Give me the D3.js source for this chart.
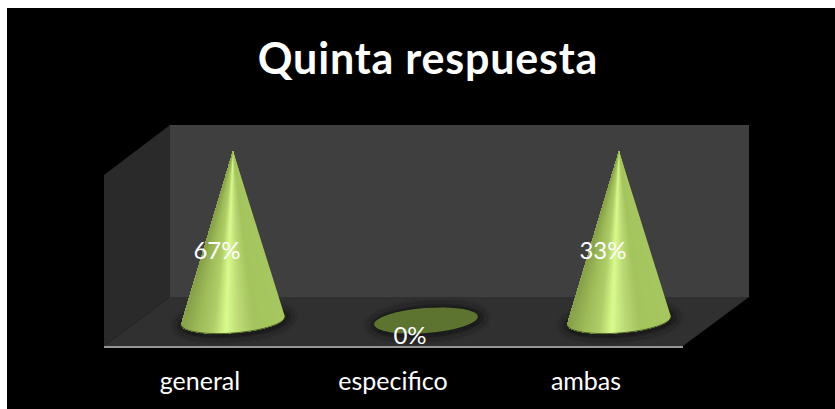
<!DOCTYPE html>
<html>
<head>
<meta charset="utf-8">
<script src="https://cdn.jsdelivr.net/npm/d3@7"></script>
<style>
    html, body { margin: 0; padding: 0; background: #fff; }
    svg { display: block; font-family: Lato, "Open Sans", sans-serif; }
</style>
</head>
<body>
<div id="graph"></div>
<script>
// datos
const chartTitle = "Quinta respuesta"
const categories = ["general", "especifico", "ambas"]
// altura dibujada de cada cono (los dos conos llegan al tope aunque las etiquetas digan otra cosa)
const coneValues = [1, 0, 1]
const valueLabels = ["67%", "0%", "33%"]

const width = 835
const height = 409

const svg = d3.select("#graph").append("svg")
    .attr("width", width)
    .attr("height", height)

svg.append("rect")
    .attr("x", 7)
    .attr("y", 8)
    .attr("width", width - 7)
    .attr("height", height - 8)
    .attr("fill", "#000")

svg.append("text")
    .attr("x", 428)
    .attr("y", 74)
    .attr("text-anchor", "middle")
    .attr("font-size", 43)
    .attr("font-weight", 700)
    .attr("letter-spacing", 0.8)
    .attr("fill", "#fff")
    .text(chartTitle)

// caja 3D
const frontLeft = 104, frontRight = 683, frontY = 346
const depthX = 66, depthY = 49
const backTop = 125

const x = d3.scaleBand().domain(categories).range([frontLeft, frontRight])
const y = d3.scaleLinear().domain([0, 1]).range([320.5, 151])

const walls = svg.append("g")
const poly = pts => "M" + pts.map(p => p.join(",")).join("L") + "Z"
walls.append("path") // fondo
    .attr("d", poly([[frontLeft + depthX, backTop], [frontRight + depthX, backTop],
        [frontRight + depthX, frontY - depthY], [frontLeft + depthX, frontY - depthY]]))
    .attr("fill", "#3f3f3f")
walls.append("path") // pared izquierda
    .attr("d", poly([[frontLeft, backTop + depthY + 1], [frontLeft + depthX, backTop],
        [frontLeft + depthX, frontY - depthY], [frontLeft, frontY]]))
    .attr("fill", "#2a2a2a")
walls.append("path") // piso
    .attr("d", poly([[frontLeft, frontY], [frontLeft + depthX, frontY - depthY],
        [frontRight + depthX, frontY - depthY], [frontRight, frontY]]))
    .attr("fill", "#303030")

// sombra de la base
const defs = svg.append("defs")
defs.append("filter")
    .attr("id", "soft")
    .attr("x", "-20%").attr("y", "-50%").attr("width", "140%").attr("height", "200%")
    .append("feGaussianBlur")
    .attr("stdDeviation", 3.5)

const rx = 52, ry = 12.5, tilt = -4.5
const coneX = d => x(d) + x.bandwidth() / 2 + depthX / 2 - 0.5
const rad = tilt * Math.PI / 180
const basePoint = (cx, th) => {
    const ex = rx * Math.cos(th), ey = ry * Math.sin(th)
    return [cx + ex * Math.cos(rad) - ey * Math.sin(rad), y(0) + ex * Math.sin(rad) + ey * Math.cos(rad)]
}

const shade = d3.scaleLinear()
    .domain([0, 0.3, 0.45, 0.58, 0.7, 0.85, 1])
    .range(["#a6c660", "#a4c45e", "#bcd976", "#d9fb8e", "#afce69", "#9dbb57", "#869f4a"])

const steps = d3.range(48)
const cones = svg.selectAll("g.cone")
    .data(categories)
    .enter().append("g")
    .attr("class", "cone")

cones.append("ellipse")
    .attr("cx", d => coneX(d) + 1)
    .attr("cy", y(0) + 1)
    .attr("rx", rx + 6)
    .attr("ry", ry + 4)
    .attr("transform", d => `rotate(${tilt} ${coneX(d)} ${y(0)})`)
    .attr("fill", "#141414")
    .attr("filter", "url(#soft)")

cones.append("ellipse")
    .attr("cx", d => coneX(d))
    .attr("cy", y(0))
    .attr("rx", rx)
    .attr("ry", ry)
    .attr("transform", d => `rotate(${tilt} ${coneX(d)} ${y(0)})`)
    .attr("fill", "#5c7430")

// cada cono se pinta en cunas que se solapan, asi el brillo converge en la punta
cones.filter((d, i) => coneValues[i] > 0).each(function (d) {
    const cx = coneX(d)
    const tip = [cx, y(coneValues[categories.indexOf(d)])]
    const n = steps.length
    d3.select(this).selectAll("path.slice")
        .data(steps)
        .enter().append("path")
        .attr("class", "slice")
        .attr("d", i => {
            const arc = d3.range(i, n + 1, 1).map(j => basePoint(cx, Math.acos(1 - 2 * j / n)))
            return poly([tip].concat(arc))
        })
        .attr("fill", i => shade((i + 0.5) / n))
    // borde oscuro de la base
    d3.select(this).append("path")
        .attr("d", d3.line()(d3.range(0, 41).map(i => basePoint(cx, Math.PI * i / 40))))
        .attr("fill", "none")
        .attr("stroke", "#4e6024")
        .attr("stroke-width", 1)
})

// eje
const axis = svg.append("g")
    .attr("transform", `translate(-0.5,${frontY + 0.5})`)
    .call(d3.axisBottom(x).tickSize(0).tickPadding(25.5))
axis.select(".domain")
    .attr("stroke", "#969696")
    .attr("stroke-width", 2)
axis.selectAll("text")
    .attr("fill", "#fff")
    .attr("font-family", "Lato, 'Open Sans', sans-serif")
    .attr("font-size", 25)

// etiquetas de valor
svg.selectAll("text.value")
    .data(categories)
    .enter().append("text")
    .attr("class", "value")
    .attr("x", d => coneX(d) - 16)
    .attr("y", (d, i) => (y(0) + y(coneValues[i])) / 2 + 23)
    .attr("text-anchor", "middle")
    .attr("font-size", 24)
    .attr("fill", "#fff")
    .text((d, i) => valueLabels[i])
</script>
</body>
</html>
